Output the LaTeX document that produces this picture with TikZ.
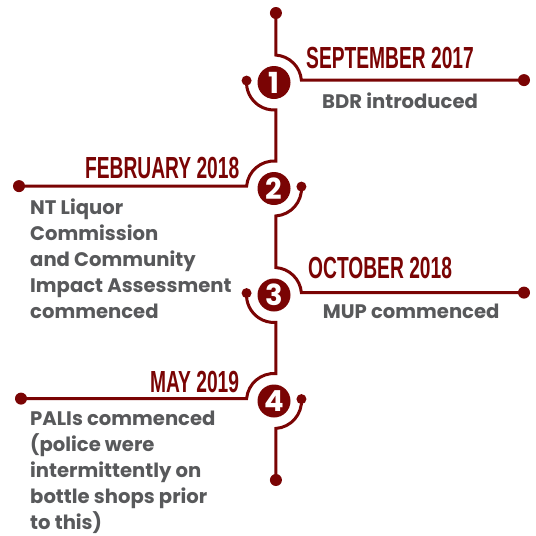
\documentclass[tikz,border=0pt]{standalone}
\usepackage{fontspec}
\usetikzlibrary{calc}
\setmainfont{Poppins}
\newfontfamily\headfont{Liberation Sans}
\definecolor{tlred}{RGB}{122,4,4}
\definecolor{tlgray}{RGB}{88,89,91}
\newcommand{\Hd}[1]{\scalebox{0.63}[1]{\headfont\bfseries\fontsize{30.5}{30.5}\selectfont #1}}
\tikzset{
  tl/.style={draw=tlred,line width=3pt},
  enddot/.style={circle,fill=tlred,inner sep=0pt,minimum size=12pt},
  sidedot/.style={circle,fill=tlred,inner sep=0pt,minimum size=10pt},
  numcirc/.style={circle,fill=tlred,text=white,inner sep=0pt,minimum size=33pt,font=\bfseries\fontsize{29}{29}\selectfont},
  head/.style={text=tlred,inner sep=0pt},
  desc/.style={text=tlgray,inner sep=0pt,align=left,font=\bfseries\fontsize{19.6}{26}\selectfont},
}

\begin{document}
\begin{tikzpicture}[x=1pt,y=1pt]
\useasboundingbox (0,0) rectangle (536,-536);
% \draw[help lines,step=50] (0,-536) grid (536,0);
\node (n1) [numcirc] at (274,-82.5) {1};
\node (n2) [numcirc] at (274,-188.5) {2};
\node (n3) [numcirc] at (274,-295) {3};
\node (n4) [numcirc] at (274,-401) {4};
%
\node (top) [enddot] at (275.92,-13) {};
\node (bot) [enddot] at (275.92,-480) {};
\node (e1) [enddot] at (524,-80.1) {};
\node (e2) [enddot] at (19,-186.1) {};
\node (e3) [enddot] at (524,-292.6) {};
\node (e4) [enddot] at (21,-398.6) {};
\node (s1) [sidedot] at ($(n1.center)+(176:27.5pt)$) {};
\node (s2) [sidedot] at ($(n2.center)+(4:27.5pt)$) {};
\node (s3) [sidedot] at ($(n3.center)+(176:27.5pt)$) {};
\node (s4) [sidedot] at ($(n4.center)+(4:27.5pt)$) {};
%
\draw[tl] (top.center) -- ($(n1.center)+(86:27.5pt)$) arc[start angle=86,end angle=5,radius=27.5pt] -- (e1.center);
\draw[tl] (s1.center) arc[start angle=176,end angle=274,radius=27.5pt] -- ($(n2.center)+(86:27.5pt)$) arc[start angle=86,end angle=175,radius=27.5pt] -- (e2.center);
\draw[tl] (s2.center) arc[start angle=4,end angle=-86,radius=27.5pt] -- ($(n3.center)+(86:27.5pt)$) arc[start angle=86,end angle=5,radius=27.5pt] -- (e3.center);
\draw[tl] (s3.center) arc[start angle=176,end angle=274,radius=27.5pt] -- ($(n4.center)+(86:27.5pt)$) arc[start angle=86,end angle=175,radius=27.5pt] -- (e4.center);
\draw[tl] (s4.center) arc[start angle=4,end angle=-86,radius=27.5pt] -- (bot.center);
%
\node (h1) [head,anchor=base west] at (306,-68.5) {\Hd{SEPTEMBER 2017}};
\node (d1) [desc,anchor=base west] at (322,-108.3) {BDR introduced};
\node (h2) [head,anchor=base east] at (239.5,-178.3) {\Hd{FEBRUARY 2018}};
\node (d2) [desc,anchor=base west] at (30,-318) {NT Liquor\\Commission\\and Community\\Impact Assessment\\commenced};
\node (h3) [head,anchor=base west] at (308,-278.3) {\Hd{OCTOBER 2018}};
\node (d3) [desc,anchor=base west] at (322.7,-318.8) {MUP commenced};
\node (h4) [head,anchor=base east] at (239.3,-392.3) {\Hd{MAY 2019}};
\node (d4) [desc,anchor=base west] at (30,-529.5) {PALIs commenced\\(police were\\intermittently on\\bottle shops prior\\to this)};
\end{tikzpicture}
\end{document}
